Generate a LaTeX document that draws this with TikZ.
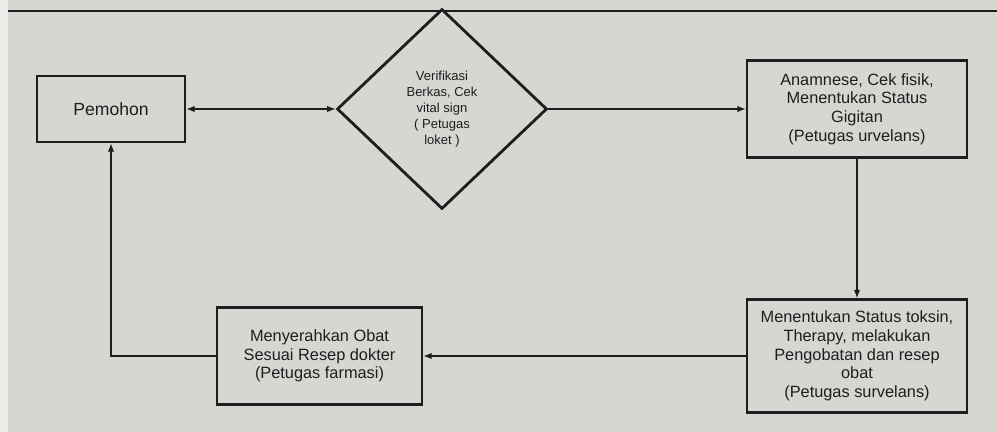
\documentclass[tikz,border=0pt]{standalone}
\usepackage{fontspec}
\setmainfont{Liberation Sans}
\usetikzlibrary{shapes.geometric,arrows.meta}
\definecolor{paper}{RGB}{214,214,211}
\definecolor{edge}{RGB}{236,236,234}
\definecolor{ink}{RGB}{30,30,30}

\begin{document}
\begin{tikzpicture}[
    kotak/.style={draw=ink, line width=1.4pt, rectangle, align=center, text=ink,
        font=\fontsize{9.3}{10.6}\selectfont},
    panah/.style={draw=ink, line width=0.7pt, -{Latex[length=1.7mm,width=1.3mm]}}
    ]
            \fill[edge] (0,0) rectangle (19.94,-8.64);
            \fill[paper] (0.16,0) rectangle (19.94,-8.64);
            \useasboundingbox (0,0) rectangle (19.94,-8.64);
            \draw[ink, line width=0.9pt] (0.16,-0.22) -- (19.94,-0.22);

            \node[kotak, minimum width=2.96cm, minimum height=1.32cm,
                font=\fontsize{10}{12}\selectfont] (pemohon) at (2.22,-2.18) {Pemohon};
            \node[draw=ink, line width=1.6pt, diamond, minimum width=4.2cm, minimum height=4.0cm,
                align=center, text=ink, font=\fontsize{7.4}{9.1}\selectfont] (verif) at (8.84,-2.18)
                {Verifikasi\\Berkas, Cek\\vital sign\\( Petugas\\loket )};
            \node[kotak, minimum width=4.4cm, minimum height=1.94cm] (anamnesa) at (17.14,-2.18)
                {Anamnese, Cek fisik,\\Menentukan Status\\Gigitan\\(Petugas urvelans)};
            \node[kotak, minimum width=4.4cm, minimum height=2.26cm] (terapi) at (17.14,-7.12)
                {Menentukan Status toksin,\\Therapy, melakukan\\Pengobatan dan resep\\obat\\(Petugas survelans)};
            \node[kotak, minimum width=4.1cm, minimum height=1.94cm] (obat) at (6.39,-7.12)
                {Menyerahkan Obat\\Sesuai Resep dokter\\(Petugas farmasi)};

            \draw[panah, {Latex[length=1.7mm,width=1.3mm]}-{Latex[length=1.7mm,width=1.3mm]}] (pemohon) -- (verif);
            \draw[panah] (verif) -- (anamnesa);
            \draw[panah] (anamnesa) -- (terapi);
            \draw[panah] (terapi) -- (obat);
            \draw[panah] (obat.west) -| (pemohon.south);
        \end{tikzpicture}
\end{document}
